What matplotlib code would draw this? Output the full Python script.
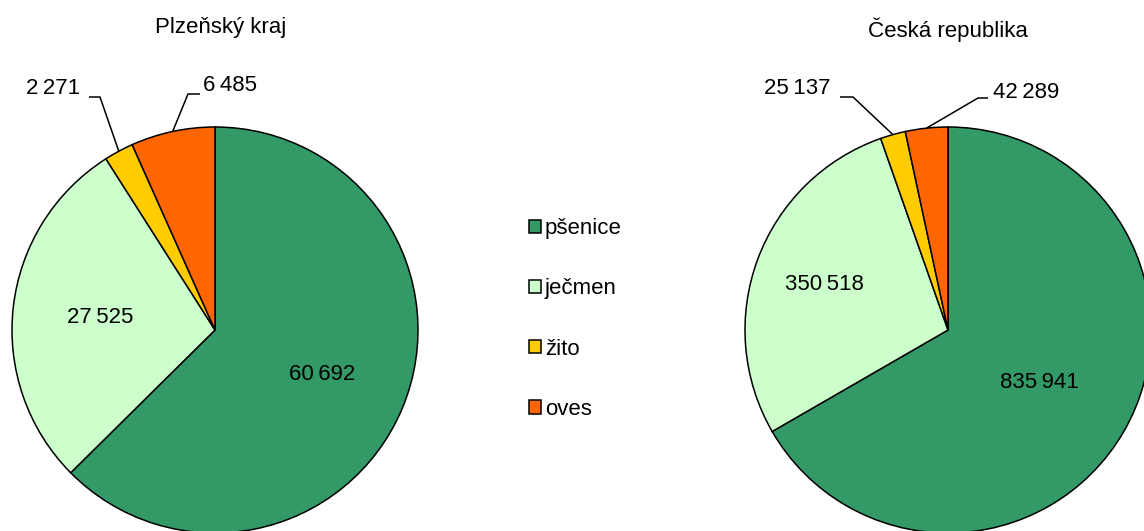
import numpy as np
import matplotlib
matplotlib.use('Agg')
import matplotlib.pyplot as plt
from matplotlib.patches import Patch

plt.rcParams['font.family'] = ['Liberation Sans', 'DejaVu Sans']
plt.rcParams['font.size'] = 16

# data
categories = ['pšenice', 'ječmen', 'žito', 'oves']
plzen_values = [60692, 27525, 2271, 6485]
cr_values = [835941, 350518, 25137, 42289]
titles = ['Plzeňský kraj', 'Česká republika']
colors = ['#339966', '#CCFFCC', '#FFCC00', '#FF6600']

W, H = 1144, 531
R_PX = 203          # pie radius in pixels
EXT = 1.2           # axes half extent in data units


def fmt(v):
    # narrow thousands separator like the original
    return f'{v:,}'.replace(',', '\u2009')


def px_to_data(cx, cy, px, py):
    return (px - cx) / R_PX, (cy - py) / R_PX


fig = plt.figure(figsize=(W / 100, H / 100), dpi=100)

# pie centres (pixels from top-left), inner label radius, outer label layout
pies = [
    dict(values=plzen_values, center=(215, 330), title_xy=(221, 27),
         inner=[0.57, 0.57],
         # (text px, align, line start px, knee px) for small slices
         outer=[((80, 89), 'right', (89, 97), (100, 97)),
                ((203, 86), 'left', (200, 94), (188, 94))]),
    dict(values=cr_values, center=(948, 330), title_xy=(948, 30),
         inner=[0.52, 0.65],
         outer=[((830, 89), 'right', (840, 97), (853, 97)),
                ((993, 92), 'left', (988, 98), (978, 98))]),
]

for p, title in zip(pies, titles):
    cx, cy = p['center']
    size = 2 * EXT * R_PX
    ax = fig.add_axes([(cx - size / 2) / W, (H - cy - size / 2) / H, size / W, size / H])
    wedges, _ = ax.pie(p['values'], colors=colors, startangle=90, counterclock=False,
                       radius=1.0, wedgeprops=dict(edgecolor='black', linewidth=1.1))
    ax.set_xlim(-EXT, EXT)
    ax.set_ylim(-EXT, EXT)
    ax.axis('off')

    mids = [np.deg2rad((w.theta1 + w.theta2) / 2) for w in wedges]

    # big slices: labels inside
    for i, r in enumerate(p['inner']):
        ax.text(r * np.cos(mids[i]), r * np.sin(mids[i]), fmt(p['values'][i]),
                ha='center', va='center', fontsize=16)

    # small slices: labels outside with leader lines
    for k, (txt_px, align, start_px, knee_px) in enumerate(p['outer']):
        i = k + 2
        ex, ey = np.cos(mids[i]), np.sin(mids[i])
        sx, sy = px_to_data(cx, cy, *start_px)
        kx, ky = px_to_data(cx, cy, *knee_px)
        ax.plot([sx, kx, ex], [sy, ky, ey], color='black', linewidth=1.1,
                solid_capstyle='butt', clip_on=False)
        tx, ty = px_to_data(cx, cy, *txt_px)
        ax.text(tx, ty, fmt(p['values'][i]), ha=align, va='center', fontsize=16)

    tx, ty = p['title_xy']
    fig.text(tx / W, 1 - ty / H, title, ha='center', va='center', fontsize=16)

handles = [Patch(facecolor=c, edgecolor='black', linewidth=1.1) for c in colors]
fig.legend(handles, categories, loc='center left', bbox_to_anchor=(518 / W, 1 - 319 / H),
           frameon=False, handlelength=0.55, handleheight=0.55, handletextpad=0.15,
           labelspacing=1.76, fontsize=16, borderpad=0)

fig.savefig('out.png', dpi=100)
